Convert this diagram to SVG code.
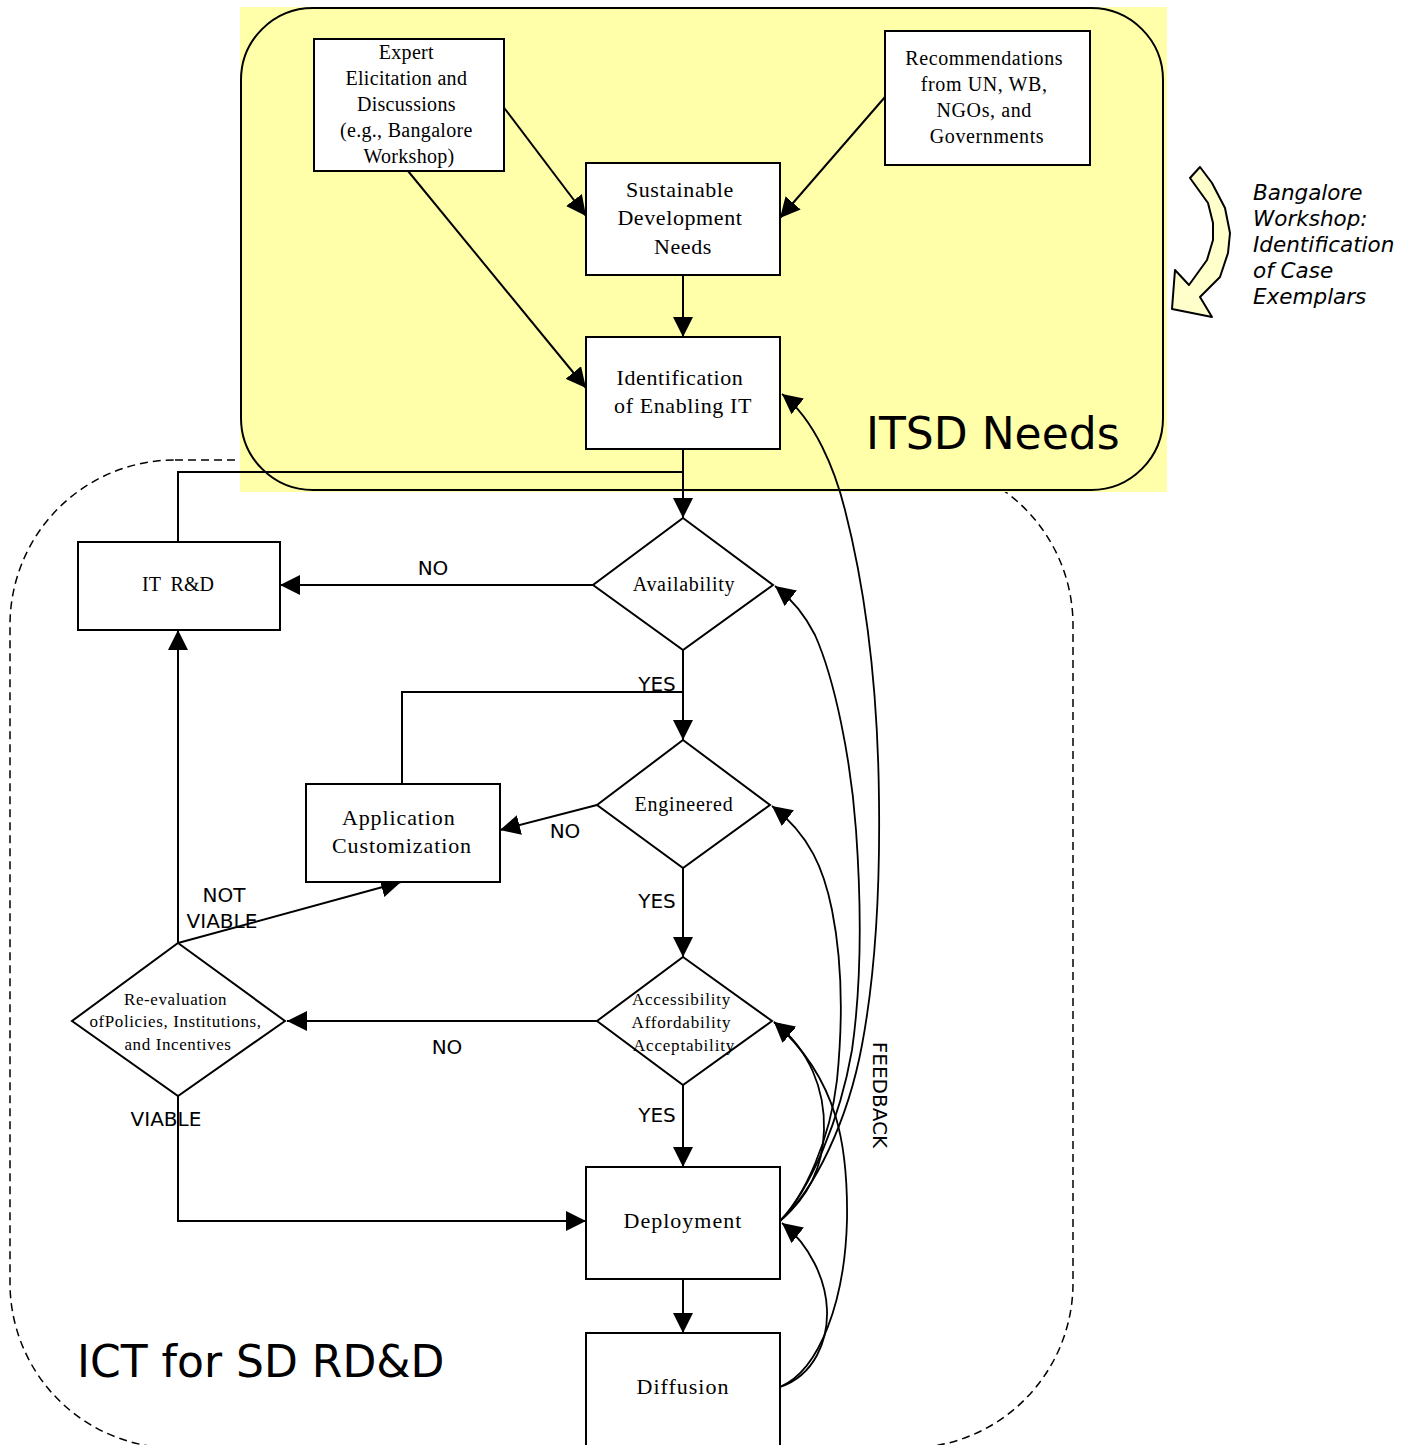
<svg xmlns="http://www.w3.org/2000/svg" width="1416" height="1445" viewBox="0 0 1416 1445">
<style>
.box{fill:#fff;stroke:#000;stroke-width:2}
.dia{fill:#fff;stroke:#000;stroke-width:2}
.t{font-family:"Liberation Serif","Times New Roman",serif;fill:#000;text-anchor:middle}
.lbl{font-family:"DejaVu Sans",Verdana,sans-serif;font-size:20px;fill:#000;text-anchor:middle}
.big{font-family:"DejaVu Sans",Verdana,sans-serif;fill:#000}
.ln{fill:none;stroke:#000;stroke-width:2}
.fb{fill:none;stroke:#000;stroke-width:1.8}
</style>
<defs>
<marker id="ah" viewBox="0 0 20 20" markerWidth="20" markerHeight="20" refX="20" refY="10" orient="auto" markerUnits="userSpaceOnUse">
<path d="M0,0 L20,10 L0,20 z" fill="#000"/>
</marker>
</defs>

<!-- regions -->
<g id="region-ict">
<rect x="10" y="460" width="1063" height="988" rx="165" ry="165" fill="none" stroke="#000" stroke-width="1.5" stroke-dasharray="8,5"/>
</g>
<g id="region-itsd">
<rect x="240" y="7" width="927" height="485" fill="#ffffaa"/>
<rect x="241" y="8" width="922" height="482" rx="72" ry="72" fill="none" stroke="#000" stroke-width="2"/>
</g>

<g id="connectors">
<line class="ln" x1="502" y1="105" x2="586" y2="216" marker-end="url(#ah)"/>
<line class="ln" x1="408" y1="171" x2="586" y2="388" marker-end="url(#ah)"/>
<line class="ln" x1="885" y1="97" x2="780" y2="218" marker-end="url(#ah)"/>
<line class="ln" x1="683" y1="275" x2="683" y2="337" marker-end="url(#ah)"/>
<line class="ln" x1="683" y1="449" x2="683" y2="518" marker-end="url(#ah)"/>
<polyline class="ln" points="178,542 178,472 683,472"/>
<line class="ln" x1="593" y1="585" x2="280" y2="585" marker-end="url(#ah)"/>
<line class="ln" x1="683" y1="650" x2="683" y2="740" marker-end="url(#ah)"/>
<polyline class="ln" points="402,784 402,692 683,692"/>
<line class="ln" x1="597" y1="805" x2="500" y2="830" marker-end="url(#ah)"/>
<line class="ln" x1="683" y1="868" x2="683" y2="957" marker-end="url(#ah)"/>
<line class="ln" x1="597" y1="1021" x2="287" y2="1021" marker-end="url(#ah)"/>
<line class="ln" x1="178" y1="943" x2="178" y2="630" marker-end="url(#ah)"/>
<line class="ln" x1="178" y1="943" x2="401" y2="882" marker-end="url(#ah)"/>
<polyline class="ln" points="178,1096 178,1221 586,1221" marker-end="url(#ah)"/>
<line class="ln" x1="683" y1="1085" x2="683" y2="1167" marker-end="url(#ah)"/>
<line class="ln" x1="683" y1="1279" x2="683" y2="1333" marker-end="url(#ah)"/>
<!-- feedback curves -->
<path class="fb" d="M780,1221 C815,1190 848,1120 862,1045 C876,970 880,880 879,800 C878,700 868,600 845,510 C835,470 815,420 782,394" marker-end="url(#ah)"/>
<path class="fb" d="M780,1221 C810,1190 840,1120 852,1050 C862,980 861,900 856,830 C851,760 835,680 815,635 C805,615 793,600 775,586" marker-end="url(#ah)"/>
<path class="fb" d="M780,1221 C805,1195 830,1140 837,1080 C843,1020 842,960 832,910 C824,870 810,835 772,806" marker-end="url(#ah)"/>
<path class="fb" d="M780,1221 C805,1200 823,1170 824,1130 C825,1090 810,1050 774,1022" marker-end="url(#ah)"/>
<path class="fb" d="M780,1387 C820,1370 845,1300 847,1220 C848,1150 840,1080 774,1022" marker-end="url(#ah)"/>
<path class="fb" d="M780,1387 C815,1375 828,1340 827,1310 C826,1280 810,1245 782,1223" marker-end="url(#ah)"/>
</g>

<g id="labels">
<text class="lbl" x="433" y="575">NO</text>
<text class="lbl" x="657" y="691">YES</text>
<text class="lbl" x="565" y="838">NO</text>
<text class="lbl" x="657" y="908">YES</text>
<text class="lbl" x="447" y="1054">NO</text>
<text class="lbl" x="657" y="1122">YES</text>
<text class="lbl" x="224" y="902">NOT</text>
<text class="lbl" x="222" y="928">VIABLE</text>
<text class="lbl" x="166" y="1126">VIABLE</text>
<text class="lbl" transform="translate(880,1095) rotate(90)" x="0" y="7.5" font-size="21">FEEDBACK</text>
<text class="big" x="866" y="449" font-size="44">ITSD Needs</text>
<text class="big" x="77" y="1377" font-size="44">ICT for SD RD&amp;D</text>
</g>

<g id="bangalore-note">
<path d="M1190,178 L1200,167 L1212,183 L1225,208 L1230,233 L1228,253 L1220,277 L1200,297 L1212,317 L1172,309 L1175,270 L1189,285 L1207,260 L1213,240 L1213,223 L1208,203 Z" fill="#ffffcc" stroke="#000" stroke-width="2" stroke-linejoin="round"/>
<text class="big" font-size="21.5" font-style="italic">
<tspan x="1253" y="200">Bangalore</tspan>
<tspan x="1253" y="226">Workshop:</tspan>
<tspan x="1253" y="252">Identification</tspan>
<tspan x="1253" y="278">of Case</tspan>
<tspan x="1253" y="304">Exemplars</tspan>
</text>
</g>

<g id="node-expert">
<rect class="box" x="314" y="39" width="190" height="132"/>
<text class="t" font-size="20" letter-spacing="0.3">
<tspan x="409" y="59">Expert</tspan>
<tspan x="409" y="85">Elicitation and</tspan>
<tspan x="409" y="111">Discussions</tspan>
<tspan x="409" y="137">(e.g., Bangalore</tspan>
<tspan x="409" y="163">Workshop)</tspan>
</text>
</g>

<g id="node-recommendations">
<rect class="box" x="885" y="31" width="205" height="134"/>
<text class="t" font-size="20" letter-spacing="0.6">
<tspan x="987" y="65">Recommendations</tspan>
<tspan x="987" y="91">from UN, WB,</tspan>
<tspan x="987" y="117">NGOs, and</tspan>
<tspan x="987" y="143">Governments</tspan>
</text>
</g>

<g id="node-sdn">
<rect class="box" x="586" y="163" width="194" height="112"/>
<text class="t" font-size="22" letter-spacing="0.6">
<tspan x="683" y="197">Sustainable</tspan>
<tspan x="683" y="225">Development</tspan>
<tspan x="683" y="254">Needs</tspan>
</text>
</g>

<g id="node-identification">
<rect class="box" x="586" y="337" width="194" height="112"/>
<text class="t" font-size="22" letter-spacing="0.6">
<tspan x="683" y="385">Identification</tspan>
<tspan x="683" y="413">of Enabling IT</tspan>
</text>
</g>

<g id="node-availability">
<polygon class="dia" points="683,518 773,585 683,650 593,585"/>
<text class="t" font-size="20" letter-spacing="0.7" x="684" y="591">Availability</text>
</g>

<g id="node-itrd">
<rect class="box" x="78" y="542" width="202" height="88"/>
<text class="t" font-size="20" x="178" y="591" xml:space="preserve">IT  R&amp;D</text>
</g>

<g id="node-engineered">
<polygon class="dia" points="683,740 770,805 683,868 597,805"/>
<text class="t" font-size="20" letter-spacing="0.8" x="684" y="811">Engineered</text>
</g>

<g id="node-appcust">
<rect class="box" x="306" y="784" width="194" height="98"/>
<text class="t" font-size="22" letter-spacing="0.9">
<tspan x="402" y="825">Application</tspan>
<tspan x="402" y="853">Customization</tspan>
</text>
</g>

<g id="node-aaa">
<polygon class="dia" points="683,957 772,1021 683,1085 597,1021"/>
<text class="t" font-size="17" letter-spacing="0.8">
<tspan x="684" y="1005">Accessibility</tspan>
<tspan x="684" y="1028">Affordability</tspan>
<tspan x="684" y="1051">Acceptability</tspan>
</text>
</g>

<g id="node-reevaluation">
<polygon class="dia" points="178,943 285,1021 178,1096 72,1021"/>
<text class="t" font-size="17" letter-spacing="0.6">
<tspan x="178" y="1005">Re-evaluation</tspan>
<tspan x="178" y="1027">ofPolicies, Institutions,</tspan>
<tspan x="178" y="1050">and Incentives</tspan>
</text>
</g>

<g id="node-deployment">
<rect class="box" x="586" y="1167" width="194" height="112"/>
<text class="t" font-size="22" letter-spacing="1" x="683" y="1228">Deployment</text>
</g>

<g id="node-diffusion">
<rect class="box" x="586" y="1333" width="194" height="113"/>
<text class="t" font-size="22" letter-spacing="1" x="683" y="1394">Diffusion</text>
</g>
</svg>
